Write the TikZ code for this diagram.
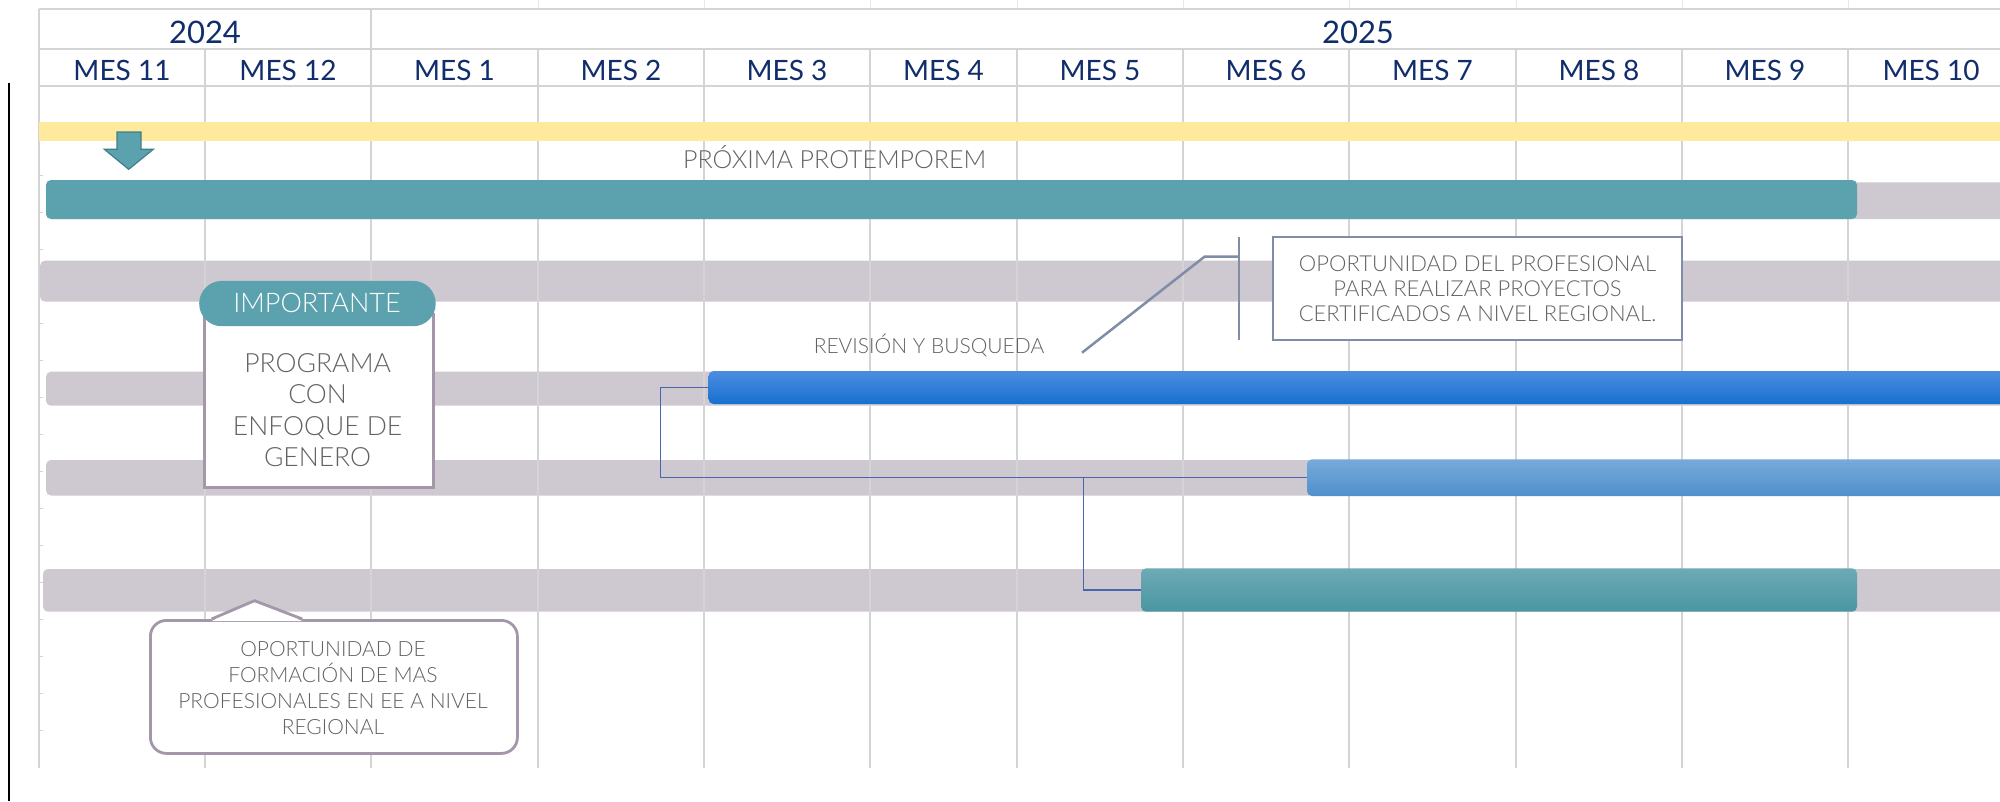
\documentclass[tikz,border=0pt]{standalone}
\usepackage{fontspec}
\setmainfont{Lato}
\newfontfamily\lt{Lato Light}
\usetikzlibrary{calc}
\definecolor{navy}{HTML}{112D6B}
\definecolor{gridc}{HTML}{D4D4D4}
\definecolor{faintc}{HTML}{E8E8E8}
\definecolor{yellowc}{HTML}{FEE99C}
\definecolor{tealc}{HTML}{5BA2AE}
\definecolor{tealdark}{HTML}{3F7F89}
\definecolor{grayc}{HTML}{CEC8D0}
\definecolor{txtgray}{HTML}{626262}
\definecolor{slatec}{HTML}{7F8DA6}
\definecolor{boxc}{HTML}{A497A9}
\definecolor{connc}{HTML}{4A64AE}
\definecolor{blueT}{HTML}{4C8DE0}
\definecolor{blueM}{HTML}{2080E0}
\definecolor{blueB}{HTML}{1770CF}
\definecolor{lbT}{HTML}{76AADA}
\definecolor{lbB}{HTML}{5090CB}
\definecolor{tT}{HTML}{6DAAB5}
\definecolor{tB}{HTML}{4A96A2}
\begin{document}
\begin{tikzpicture}[x=1pt,y=-1pt,
  gridl/.style={draw=gridc, line width=1.6pt},
  barbase/.style={inner sep=0pt, outer sep=0pt, anchor=north west, rounded corners=5pt},
  graybar/.style={barbase, fill=grayc},
  tealbar/.style={barbase, fill=tealc},
  bluebar/.style={barbase, top color=blueT, middle color=blueM, bottom color=blueB},
  lbluebar/.style={barbase, top color=lbT, bottom color=lbB},
  tgradbar/.style={barbase, top color=tT, bottom color=tB},
  month/.style={anchor=base, text=navy, font=\fontsize{28}{34}\selectfont, inner sep=0pt},
  year/.style={anchor=base, text=navy, font=\fontsize{31}{36}\selectfont, inner sep=0pt},
  lbl/.style={anchor=base, text=txtgray, inner sep=0pt},
  conn/.style={draw=connc, line width=1.4pt},
  callout/.style={draw=slatec, line width=2.5pt},
]
\useasboundingbox (0,0) rectangle (2000,801);
\clip (0,0) rectangle (2000,801);
\fill[white] (0,0) rectangle (2000,801);

% left black line
\coordinate (lt) at (9,83);
\coordinate (lb) at (9,801);
\draw[black, line width=1.4pt] (lt) -- (lb);

% faint ticks above header
\foreach \x in {538,704,870,1017,1183,1349,1516,1682,1848}
  \draw[draw=faintc, line width=1pt] (\x,0) -- (\x,9);

% small ticks on left edge
\foreach \k in {0,...,15}
  \draw[draw=gridc, line width=1pt] (39,175.6+37*\k) -- (43,175.6+37*\k);

% gray row bars
\node[graybar, minimum width=1964pt, minimum height=36.7pt] (g1) at (46,182.3) {};
\node[graybar, minimum width=1970pt, minimum height=41pt] (g2) at (40,260.7) {};
\node[graybar, minimum width=1964pt, minimum height=34pt] (g3) at (46,371.7) {};
\node[graybar, minimum width=1964pt, minimum height=35.5pt] (g4) at (46,460) {};
\node[graybar, minimum width=1967pt, minimum height=42.7pt] (g5) at (43,569) {};

% grid
\draw[gridl] (39,9) -- (2000,9);
\draw[gridl] (39,49) -- (2000,49);
\draw[gridl] (39,86) -- (2000,86);
\draw[gridl] (39,9) -- (39,768);
\draw[gridl] (371,9) -- (371,768);
\foreach \x in {205,538,704,870,1017,1183,1349,1516,1682,1848}
  \draw[gridl] (\x,49) -- (\x,768);

% header texts
\node[year] (y24) at (205,43.3) {2024};
\node[year] (y25) at (1358,43.3) {2025};
\node[month] (m11) at (122,80) {MES 11};
\node[month] (m12) at (288,80) {MES 12};
\node[month] (m1) at (454.5,80) {MES 1};
\node[month] (m2) at (621,80) {MES 2};
\node[month] (m3) at (787,80) {MES 3};
\node[month] (m4) at (943.5,80) {MES 4};
\node[month] (m5) at (1100,80) {MES 5};
\node[month] (m6) at (1266,80) {MES 6};
\node[month] (m7) at (1432.5,80) {MES 7};
\node[month] (m8) at (1599,80) {MES 8};
\node[month] (m9) at (1765,80) {MES 9};
\node[month] (m10) at (1931,80) {MES 10};

% yellow band
\fill[yellowc] (39,122) rectangle (2010,141);

% down arrow
\filldraw[fill=tealc, draw=tealdark, line width=1.2pt, line join=miter]
  (117,132) -- (141,132) -- (141,149.3) -- (153.3,149.3) -- (128.7,169.3)
  -- (104.3,149.3) -- (117,149.3) -- cycle;

% coloured bars
\node[tealbar, minimum width=1811pt, minimum height=39pt] (t1) at (46,180) {};
\node[bluebar, minimum width=1310pt, minimum height=33pt] (b3) at (708.5,371) {};
\node[lbluebar, minimum width=711pt, minimum height=36.7pt] (b4) at (1307,459.3) {};
\node[tgradbar, minimum width=716pt, minimum height=43.4pt] (t5) at (1141,568.3) {};

% labels
\node[lbl, font=\lt\fontsize{25}{30}\selectfont] (prox) at (834.7,168) {PRÓXIMA PROTEMPOREM};
\node[lbl, font=\lt\fontsize{21}{26}\selectfont] (rev) at (929,353.3) {REVISIÓN Y BUSQUEDA};

% connectors
\draw[conn] (b3.west) -- ++(-48,0) |- (b4.west);
\coordinate (j) at (1027.5,477.65);
\draw[conn] (j) -- ++(56,0) |- (t5.west);

% callout with bracket
\coordinate (c0) at (1082,352.7);
\coordinate (c1) at (1204.5,256.7);
\coordinate (vt) at (1238.8,237);
\coordinate (vb) at (1238.8,340);
\draw[callout] (c0) -- (c1) -- (c1 -| vt);
\draw[callout] (vt) -- (vb);
\node[draw=slatec, line width=2.5pt, fill=white, minimum width=409pt, minimum height=103pt,
  inner sep=0pt, align=center, text=txtgray, font=\lt\fontsize{22}{25}\selectfont] (cb) at (1477.5,288.5)
  {OPORTUNIDAD DEL PROFESIONAL\\PARA REALIZAR PROYECTOS\\CERTIFICADOS A NIVEL REGIONAL.};

% IMPORTANTE box
\node[draw=boxc, line width=2.5pt, fill=white, minimum width=229pt, minimum height=173pt,
  inner sep=0pt, anchor=north west] (ibox) at (203,313) {};
\node[fill=tealc, rounded corners=22.5pt, minimum width=236.5pt, minimum height=45.3pt,
  inner sep=0pt, anchor=north west] (pill) at (199,280.7) {};
\node[lbl, text=white, font=\lt\fontsize{27}{32}\selectfont] (imp) at (317,312.7) {IMPORTANTE};
\node[inner sep=0pt, align=center, text=txtgray, font=\lt\fontsize{26.5}{31.6}\selectfont] (prog)
  at (317.6,410.2) {PROGRAMA\\CON\\ENFOQUE DE\\GENERO};

% speech bubble
\node[draw=boxc, line width=2.8pt, fill=white, rounded corners=16pt, minimum width=367pt,
  minimum height=133pt, inner sep=0pt, anchor=north west] (bub) at (149,619) {};
\fill[white] (211.6,621) -- (254.5,600.7) -- (302.3,621) -- cycle;
\draw[draw=boxc, line width=2.8pt, line join=miter] (211.6,619) -- (254.5,600.7) -- (302.3,619);
\node[inner sep=0pt, align=center, text=txtgray, font=\lt\fontsize{21}{26}\selectfont] (bubt)
  at (333,688.4) {OPORTUNIDAD DE\\FORMACIÓN DE MAS\\PROFESIONALES EN EE A NIVEL\\REGIONAL};
\end{tikzpicture}
\end{document}
